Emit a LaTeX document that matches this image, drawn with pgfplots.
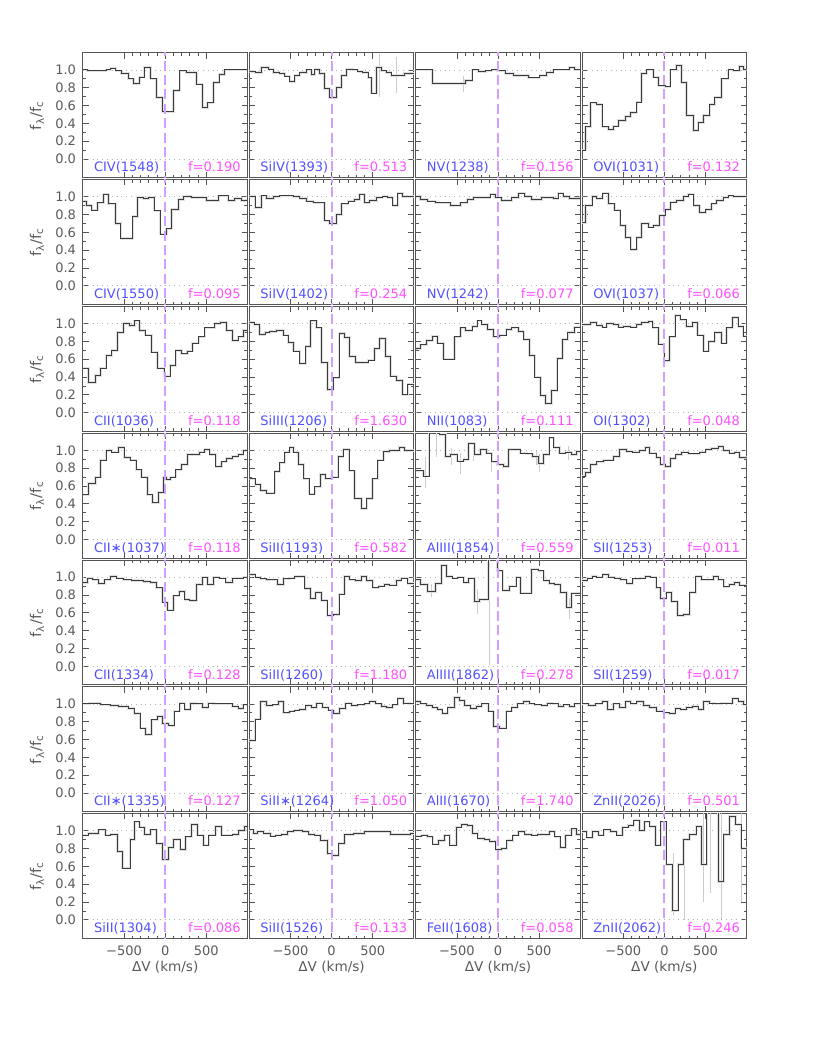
\documentclass[border=0pt]{standalone}
\usepackage{fontspec}
\setmainfont{DejaVu Sans}
\usepackage{pgfplots}
\usepackage{pgfplotstable}
\pgfplotsset{compat=1.18}
\usepgfplotslibrary{groupplots}
\usetikzlibrary{calc}

\definecolor{axgray}{HTML}{555555}
\definecolor{txtgray}{HTML}{5A5A5A}
\definecolor{specgray}{HTML}{3C3C3C}
\definecolor{ioncol}{HTML}{5050FF}
\definecolor{fcol}{HTML}{FF50FF}
\definecolor{zerocol}{HTML}{CFA0FF}

\tikzset{
  dotline/.style={gray!60, dotted, line width=0.4pt},
  halo/.style={gray!25, line width=1.3pt, const plot},
  spec/.style={specgray, line width=0.5pt, const plot},
  vline/.style={zerocol, line width=1pt, dash pattern=on 5pt off 2.2pt},
  ionlab/.style={anchor=base west, inner sep=0pt, text=ioncol, font=\fontsize{6.5}{7}\selectfont},
  flab/.style={anchor=base east, inner sep=0pt, text=fcol, font=\fontsize{6.5}{7}\selectfont},
}
\pgfplotsset{errline/.style={draw=gray!40, line width=0.45pt, unbounded coords=jump}}

% ---- row 1
\pgfplotstableread{
x y
-1000 1.00
-944 0.99
-790 0.99
-718 1.00
-660 1.02
-600 0.99
-528 0.96
-446 0.90
-386 0.85
-313 0.92
-256 1.03
-176 0.90
-103 0.69
-34 0.53
99 0.77
180 0.99
260 0.97
381 0.84
455 0.58
511 0.63
584 0.86
656 0.95
725 1.00
1000 1.00
}\tAA
\pgfplotstableread{
x y
-1000 0.98
-931 0.97
-850 1.03
-770 1.01
-709 0.97
-629 0.96
-568 0.93
-508 0.87
-446 0.94
-386 0.97
-305 1.00
-245 0.95
-204 1.01
-144 0.96
-83 0.79
-23 0.69
59 0.80
119 0.94
180 1.01
260 1.00
321 0.98
381 0.97
443 0.91
483 0.74
544 1.03
604 0.99
665 0.97
725 0.94
826 0.94
888 0.96
1000 0.96
}\tAB
\pgfplotstableread{
x y
-1000 1.00
-799 0.85
-396 0.88
-316 1.00
-235 0.98
-155 0.99
-75 1.00
-6 0.99
86 0.96
188 0.94
369 0.91
509 0.94
590 0.97
670 1.00
871 1.03
931 1.00
1000 1.00
}\tAC
\pgfplotstableread{
x y
-1000 0.10
-961 0.36
-900 0.63
-820 0.61
-759 0.36
-679 0.33
-618 0.37
-558 0.43
-476 0.48
-416 0.52
-335 0.64
-275 0.96
-214 1.00
-134 0.92
-73 0.82
8 0.81
69 1.00
150 1.05
210 0.86
270 0.49
351 0.32
411 0.41
473 0.49
554 0.61
614 0.69
695 0.90
775 1.00
836 0.99
916 1.04
965 1.00
1000 1.00
}\tAD
% ---- row 2
\pgfplotstableread{
x y
-1000 0.95
-960 0.90
-891 0.85
-823 0.93
-750 1.03
-689 0.92
-608 0.70
-539 0.53
-394 0.78
-338 0.99
-265 0.98
-204 0.99
-135 0.84
-63 0.58
19 0.64
79 0.86
160 0.97
220 1.00
321 0.99
503 0.96
645 1.01
766 0.96
846 0.98
928 0.96
1000 0.96
}\tBA
\pgfplotstableread{
x y
-1000 1.00
-931 0.88
-850 1.01
-790 0.98
-709 1.00
-629 1.01
-466 1.00
-386 0.98
-305 0.95
-224 0.93
-83 0.73
-23 0.70
59 0.80
119 0.92
200 0.95
281 0.97
341 1.03
403 0.93
463 0.96
544 0.99
624 1.00
685 0.99
745 0.90
806 1.04
866 1.00
1000 1.00
}\tBB
\pgfplotstableread{
x y
-1000 1.00
-940 0.97
-859 0.95
-759 0.93
-578 0.90
-456 0.93
-376 0.97
-296 0.99
-95 1.03
-34 0.99
46 0.96
168 0.99
248 1.04
328 1.00
409 0.97
529 0.99
670 0.98
730 1.04
791 1.00
871 0.98
1000 0.98
}\tBC
\pgfplotstableread{
x y
-1000 0.71
-961 0.90
-880 1.00
-820 0.98
-748 1.04
-679 0.92
-610 0.85
-538 0.68
-476 0.54
-408 0.41
-335 0.54
-275 0.70
-194 0.66
-134 0.68
-60 0.79
8 0.86
76 0.94
150 0.96
230 1.00
291 1.03
359 0.90
424 0.82
505 0.86
574 0.92
634 0.96
715 0.99
775 1.01
836 1.00
1000 1.00
}\tBD
% ---- row 3
\pgfplotstableread{
x y
-1000 0.50
-931 0.34
-850 0.42
-790 0.50
-718 0.64
-649 0.70
-580 0.90
-508 1.00
-434 0.98
-374 1.03
-313 0.92
-245 0.87
-164 0.68
-91 0.50
-14 0.41
59 0.53
131 0.70
200 0.66
269 0.69
334 0.78
410 0.85
483 0.95
604 1.00
676 1.01
745 0.92
818 0.81
886 0.85
955 0.92
1000 0.92
}\tCA
\pgfplotstableread{
x y
-1000 1.01
-944 0.99
-879 0.88
-810 0.90
-750 0.91
-669 0.92
-588 0.87
-528 0.79
-466 0.69
-386 0.55
-313 0.74
-256 1.03
-184 0.95
-124 0.56
-50 0.26
19 0.39
91 0.89
160 0.84
220 0.63
293 0.56
361 0.56
443 0.59
523 0.72
584 0.83
656 0.63
713 0.41
786 0.36
866 0.20
928 0.32
1000 0.32
}\tCB
\pgfplotstableread{
x y
-1000 0.72
-940 0.76
-868 0.81
-799 0.86
-739 0.78
-666 0.60
-529 0.85
-456 0.95
-396 0.92
-316 0.97
-255 1.03
-195 0.99
-126 0.93
-54 0.85
18 0.87
99 0.93
168 0.95
248 0.91
316 0.82
380 0.64
449 0.40
518 0.19
581 0.10
650 0.25
719 0.61
783 0.82
851 0.90
931 0.96
1000 0.96
}\tCC
\pgfplotstableread{
x y
-1000 0.99
-900 1.01
-820 0.98
-759 0.96
-699 1.00
-618 0.99
-558 0.96
-496 0.97
-416 0.96
-335 0.99
-275 1.01
-194 1.02
-141 0.95
-73 0.77
-4 0.58
60 0.85
129 1.09
190 1.04
263 0.97
344 1.01
400 0.87
473 0.69
541 0.80
614 0.90
695 0.78
755 0.95
828 1.07
896 0.97
958 0.86
1000 0.86
}\tCD
% ---- row 4
\pgfplotstableread{
x y
-1000 0.50
-931 0.63
-850 0.70
-790 0.89
-718 1.00
-649 0.98
-568 1.03
-499 0.92
-426 0.89
-354 0.78
-285 0.70
-216 0.50
-151 0.41
-83 0.53
-23 0.70
19 0.67
66 0.70
131 0.78
200 0.84
269 0.95
341 0.95
414 0.98
483 1.01
544 0.95
616 0.82
685 0.87
745 0.91
818 0.93
886 0.95
948 1.00
1000 1.00
}\tDA
\pgfplotstableread{
x y
-1000 0.68
-931 0.62
-863 0.55
-790 0.52
-689 0.76
-629 0.86
-568 0.98
-508 1.03
-466 0.98
-406 0.84
-338 0.68
-273 0.51
-204 0.59
-135 0.73
-71 0.68
-3 0.70
79 0.93
140 1.01
213 0.77
281 0.46
361 0.35
430 0.46
495 0.68
564 0.89
633 0.99
705 1.00
826 1.03
888 1.00
1000 1.00
}\tDB
\pgfplotstableread{
x y
-1000 0.77
-908 0.71
-839 1.30
-706 1.18
-638 0.93
-578 0.95
-498 0.88
-416 0.90
-356 1.08
-288 0.95
-215 1.01
-143 0.97
-75 0.87
-6 0.84
66 0.82
126 1.01
268 0.97
349 0.96
420 0.93
489 0.85
550 0.95
621 1.14
679 1.03
750 0.97
823 0.98
891 0.95
953 0.99
1000 0.99
}\tDC
\pgfplotstableread{
x y
-1000 0.71
-961 0.75
-900 0.84
-820 0.87
-739 0.89
-618 0.93
-545 1.01
-464 0.99
-384 0.98
-303 1.00
-234 1.03
-181 0.97
-101 0.92
-53 0.84
8 0.82
76 0.91
141 0.95
210 0.98
291 0.96
433 0.98
505 1.01
574 1.02
654 1.04
715 1.00
788 0.97
856 0.98
916 0.92
1000 0.92
}\tDD
% ---- row 5
\pgfplotstableread{
x y
-1000 0.94
-944 0.99
-879 0.97
-810 0.93
-741 0.97
-669 1.01
-588 0.99
-508 0.97
-406 0.96
-265 0.95
-184 0.94
-103 0.88
-34 0.72
26 0.63
99 0.79
168 0.84
240 0.75
301 0.74
381 0.92
455 1.00
511 0.92
584 1.00
656 0.99
738 0.94
818 0.99
948 1.00
1000 1.00
}\tEA
\pgfplotstableread{
x y
-1000 1.03
-931 1.00
-863 0.98
-790 0.97
-660 0.92
-588 0.98
-515 0.99
-446 1.01
-325 0.87
-256 0.76
-193 0.83
-124 0.74
-55 0.57
19 0.58
91 0.81
160 1.01
220 0.97
293 0.96
361 1.01
423 0.96
503 0.88
576 0.90
645 0.92
705 0.91
786 0.96
846 0.99
928 0.93
1000 0.93
}\tEB
\pgfplotstableread{
x y
-1000 0.97
-940 0.92
-859 0.84
-759 0.93
-690 1.13
-626 1.01
-558 0.99
-489 1.00
-416 0.94
-356 0.99
-288 0.73
-223 0.75
-115 1.30
-6 1.07
59 0.85
139 0.90
219 1.00
276 0.82
409 1.09
489 1.07
558 0.96
621 0.93
690 0.92
759 0.83
831 0.66
891 0.82
953 0.82
1000 0.82
}\tEC
\pgfplotstableread{
x y
-1000 0.96
-941 0.99
-880 1.01
-820 1.00
-748 1.03
-679 1.00
-610 0.99
-538 0.97
-456 0.93
-384 0.98
-303 0.99
-234 1.01
-174 1.00
-101 0.88
-45 0.76
20 0.83
89 0.73
158 0.57
230 0.58
311 0.83
384 1.01
453 0.97
521 0.97
594 1.01
654 0.97
723 0.89
788 0.92
856 0.94
916 0.91
1000 0.91
}\tED
% ---- row 6
\pgfplotstableread{
x y
-1000 1.00
-919 1.01
-790 0.99
-669 0.98
-568 0.97
-446 0.95
-378 0.89
-305 0.73
-236 0.66
-164 0.82
-95 0.86
-30 0.78
39 0.76
108 0.92
180 1.01
240 0.94
309 1.01
381 1.00
455 0.96
523 1.01
591 1.00
665 1.00
745 1.00
818 0.97
886 0.95
948 0.99
1000 0.99
}\tFA
\pgfplotstableread{
x y
-1000 0.59
-931 0.83
-863 1.03
-790 0.98
-718 0.99
-649 1.03
-588 0.90
-515 0.92
-446 0.93
-386 0.94
-313 0.98
-245 0.96
-184 1.01
-111 0.96
-43 0.93
26 0.89
99 0.95
171 1.01
240 0.98
321 0.99
403 1.00
463 1.03
535 1.00
604 0.97
665 0.96
738 0.99
806 1.06
875 1.01
948 1.00
1000 1.00
}\tFB
\pgfplotstableread{
x y
-1000 1.03
-940 1.00
-868 0.98
-799 0.96
-739 0.94
-679 0.89
-610 0.96
-529 1.07
-465 1.04
-409 0.98
-336 0.95
-264 0.97
-195 1.00
-115 0.92
-54 0.75
18 0.73
99 0.92
168 0.96
235 1.00
308 1.03
380 1.00
449 0.99
529 0.98
598 1.01
670 1.00
730 0.97
799 0.99
871 0.97
931 1.00
1000 1.00
}\tFC
\pgfplotstableread{
x y
-1000 1.00
-920 0.98
-840 1.00
-759 1.03
-690 0.94
-618 1.00
-545 0.96
-476 1.03
-408 1.00
-335 1.03
-254 0.98
-181 0.96
-93 0.92
-13 0.90
60 0.89
129 0.95
198 0.94
270 0.96
344 0.97
411 0.94
473 1.03
545 1.01
614 1.00
695 1.01
763 1.01
828 1.06
896 1.03
965 0.99
1000 0.99
}\tFD
% ---- row 7
\pgfplotstableread{
x y
-1000 0.95
-938 0.97
-808 1.01
-729 0.95
-662 0.96
-583 0.77
-521 0.58
-427 0.90
-375 1.10
-313 1.04
-250 0.96
-182 1.01
-104 0.86
-36 0.68
42 0.81
104 0.90
182 0.79
250 0.93
323 1.07
396 0.95
469 0.84
531 0.95
615 1.05
688 0.95
755 0.95
823 0.96
896 1.00
964 1.05
1000 1.05
}\tGA
\pgfplotstableread{
x y
-1000 1.01
-953 0.97
-901 0.99
-823 0.97
-745 0.94
-677 0.95
-615 0.96
-537 0.99
-458 1.00
-354 0.99
-276 0.96
-208 0.95
-135 0.89
-52 0.74
10 0.72
89 0.86
156 0.96
271 0.97
401 0.99
531 0.99
636 0.99
714 0.96
870 0.96
959 0.97
1000 0.97
}\tGB
\pgfplotstableread{
x y
-1000 0.94
-933 0.95
-860 0.93
-792 0.85
-724 0.89
-651 0.95
-584 0.84
-505 1.04
-443 1.07
-375 1.06
-307 0.97
-245 0.91
-167 0.90
-99 0.88
-26 0.79
42 0.80
109 0.89
182 0.95
250 0.99
328 0.96
406 0.95
485 0.96
563 0.96
630 0.99
693 0.93
755 0.81
823 0.95
891 1.02
953 0.96
1000 0.96
}\tGC
\pgfplotstableread{
x y
-1000 0.99
-943 0.92
-875 0.99
-802 0.95
-735 1.01
-656 0.99
-578 0.95
-511 1.04
-438 1.06
-370 1.12
-302 1.00
-240 1.10
-177 1.05
-109 0.84
-42 1.10
21 0.62
99 0.10
167 0.62
229 0.90
307 0.96
386 1.05
448 0.62
516 1.30
656 0.43
724 0.96
792 1.16
865 1.07
933 0.80
1000 0.80
}\tGD

\newcommand{\panel}[3]{%
  \addplot[dotline] coordinates {(-1000,1) (1000,1)};
  \addplot[dotline] coordinates {(-1000,0) (1000,0)};
  \addplot[halo] table {#1};
  \addplot[spec] table {#1};
  \addplot[vline] coordinates {(0,-0.3) (0,1.3)};
  \node[ionlab] at (rel axis cs:0.065,0.048) {#2};
  \node[flab] at (rel axis cs:0.962,0.048) {f=#3};
}
% error bars as plain vertical segments: (x,lo) (x,hi) (x,nan) ...
\newcommand{\errs}[1]{\addplot[errline] coordinates {#1};}

\begin{document}
\begin{tikzpicture}
\begin{groupplot}[
  group style={group size=4 by 7, horizontal sep=1pt, vertical sep=1pt,
    xticklabels at=edge bottom, yticklabels at=edge left},
  width=82.2pt, height=62.4pt, scale only axis,
  xmin=-1000, xmax=1000, ymin=-0.21, ymax=1.19,
  xtick={-500,0,500}, xticklabels={−500,0,500}, minor x tick num=4,
  ytick={0,0.2,0.4,0.6,0.8,1.0}, yticklabels={0.0,0.2,0.4,0.6,0.8,1.0},
  minor y tick num=1,
  tick align=inside, xtick pos=both, ytick pos=both,
  axis line style={axgray, line width=0.5pt},
  every tick/.style={axgray, line width=0.4pt},
  major tick length=2.8pt, minor tick length=1.5pt,
  tick label style={font=\fontsize{6.5}{7}\selectfont, text=txtgray},
  label style={font=\fontsize{6.8}{8}\selectfont, text=txtgray},
  ylabel style={at={(axis description cs:-0.28,0.5)}, anchor=center,
    font=\fontsize{7.4}{8}\selectfont},
  xlabel style={at={(axis description cs:0.5,-0.232)}, anchor=center},
]
% row 1
\nextgroupplot[ylabel={f\textsubscript{λ}/f\textsubscript{c}}]
\panel{\tAA}{CIV(1548)}{0.190}
\nextgroupplot
\errs{(584,0.70) (584,1.18) (584,nan) (785,0.74) (785,1.14)}
\panel{\tAB}{SiIV(1393)}{0.513}
\nextgroupplot
\errs{(-416,0.75) (-416,0.93)}
\panel{\tAC}{NV(1238)}{0.156}
\nextgroupplot
\panel{\tAD}{OVI(1031)}{0.132}
% row 2
\nextgroupplot[ylabel={f\textsubscript{λ}/f\textsubscript{c}}]
\panel{\tBA}{CIV(1550)}{0.095}
\nextgroupplot
\panel{\tBB}{SiIV(1402)}{0.254}
\nextgroupplot
\panel{\tBC}{NV(1242)}{0.077}
\nextgroupplot
\panel{\tBD}{OVI(1037)}{0.066}
% row 3
\nextgroupplot[ylabel={f\textsubscript{λ}/f\textsubscript{c}}]
\panel{\tCA}{CII(1036)}{0.118}
\nextgroupplot
\panel{\tCB}{SiIII(1206)}{1.630}
\nextgroupplot
\panel{\tCC}{NII(1083)}{0.111}
\nextgroupplot
\panel{\tCD}{OI(1302)}{0.048}
% row 4
\nextgroupplot[ylabel={f\textsubscript{λ}/f\textsubscript{c}}]
\panel{\tDA}{CII∗(1037)}{0.118}
\nextgroupplot
\panel{\tDB}{SiII(1193)}{0.582}
\nextgroupplot
\errs{(-879,0.58) (-879,0.92) (-879,nan) (-750,0.93) (-750,1.23) (-750,nan)
  (-563,0.83) (-563,1.03) (-563,nan) (-456,0.73) (-456,0.97) (-456,nan)
  (-300,0.88) (-300,1.08) (-300,nan) (-75,0.76) (-75,0.96) (-75,nan)
  (463,0.84) (463,1.00) (463,nan) (500,0.76) (500,0.96) (500,nan)
  (863,0.89) (863,1.05)}
\panel{\tDC}{AlIII(1854)}{0.559}
\nextgroupplot
\panel{\tDD}{SII(1253)}{0.011}
% row 5
\nextgroupplot[ylabel={f\textsubscript{λ}/f\textsubscript{c}}]
\panel{\tEA}{CII(1334)}{0.128}
\nextgroupplot
\panel{\tEB}{SiII(1260)}{1.180}
\nextgroupplot
\errs{(-103,0.01) (-103,1.25) (-103,nan) (-256,0.59) (-256,0.87) (-256,nan)
  (875,0.53) (875,0.77) (875,nan) (-813,0.78) (-813,0.92)}
\panel{\tEC}{AlIII(1862)}{0.278}
\nextgroupplot
\panel{\tED}{SII(1259)}{0.017}
% row 6
\nextgroupplot[ylabel={f\textsubscript{λ}/f\textsubscript{c}}]
\panel{\tFA}{CII∗(1335)}{0.127}
\nextgroupplot
\panel{\tFB}{SiII∗(1264)}{1.050}
\nextgroupplot
\panel{\tFC}{AlII(1670)}{1.740}
\nextgroupplot
\panel{\tFD}{ZnII(2026)}{0.501}
% row 7
\nextgroupplot[ylabel={f\textsubscript{λ}/f\textsubscript{c}}, xlabel={ΔV (km/s)}]
\panel{\tGA}{SiII(1304)}{0.086}
\nextgroupplot[xlabel={ΔV (km/s)}]
\panel{\tGB}{SiII(1526)}{0.133}
\nextgroupplot[xlabel={ΔV (km/s)}]
\panel{\tGC}{FeII(1608)}{0.058}
\nextgroupplot[xlabel={ΔV (km/s)}]
\errs{(110,0.05) (110,0.75) (110,nan) (240,0.0) (240,0.85) (240,nan) (470,0.2) (470,1.25) (470,nan)
  (560,0.3) (560,1.25) (560,nan) (690,0.0) (690,1.25) (690,nan) (940,0.2) (940,1.25)}
\panel{\tGD}{ZnII(2062)}{0.246}
\end{groupplot}
\path ($(group c1r1.north west)+(-41.5pt,26.5pt)$) rectangle ($(group c1r1.north west)+(373.5pt,-492.5pt)$);
\end{tikzpicture}
\end{document}
